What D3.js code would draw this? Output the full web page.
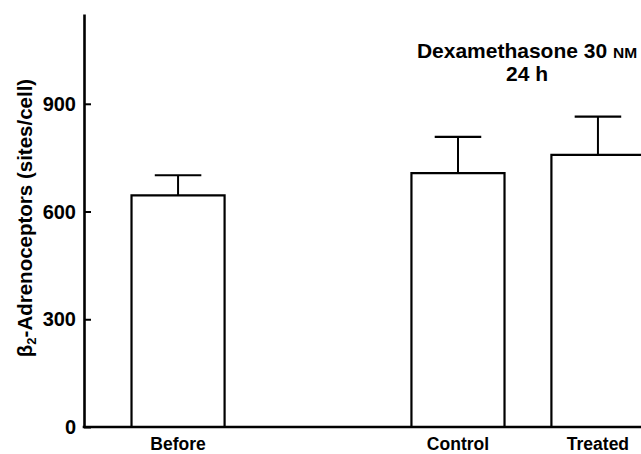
<!DOCTYPE html>
<head>
  <meta charset="utf-8">
  <script src="https://cdn.jsdelivr.net/npm/d3@7"></script>
  <style>
    body { margin: 0; background: white; }
    text { font-family: "Liberation Sans", Arial, sans-serif; font-weight: bold; fill: black; }
  </style>
</head>
<body>
  <div id="chartDiv"></div>
  <script>

  // slots along the x axis, " " is the empty gap between Before and Control
  var slots = ["Before", " ", "Control", "Treated"];
  var categories = ["Before", "Control", "Treated"];
  var means = [645, 707, 758];
  var errors = [56, 101, 106];
  var yTicks = [0, 300, 600, 900];

  var width = 641;
  var height = 454;

  var svg = d3.select("#chartDiv").append("svg")
    .attr("width", width)
    .attr("height", height);

  var x = d3.scaleBand()
    .domain(slots)
    .range([108, 668])
    .paddingInner(0.335)
    .paddingOuter(0.168);

  var y = d3.scaleLinear()
    .domain([0, 1150])
    .range([427, 14]);

  var axisX = 84;

  // bars
  var bars = svg.append("g");
  categories.forEach(function(c, i) {
    var x0 = x(c);
    var bw = x.bandwidth();
    var cx = x0 + bw / 2;

    bars.append("path")
      .attr("d", "M" + x0 + "," + y(0) + "V" + y(means[i]) + "H" + (x0 + bw) + "V" + y(0))
      .style("fill", "white")
      .style("stroke", "black")
      .style("stroke-width", 2.2);

    // error bar, upper only
    bars.append("line")
      .attr("x1", cx).attr("x2", cx)
      .attr("y1", y(means[i])).attr("y2", y(means[i] + errors[i]))
      .style("stroke", "black")
      .style("stroke-width", 2);
    bars.append("line")
      .attr("x1", cx - bw / 4).attr("x2", cx + bw / 4)
      .attr("y1", y(means[i] + errors[i])).attr("y2", y(means[i] + errors[i]))
      .style("stroke", "black")
      .style("stroke-width", 2.2);

    svg.append("text")
      .attr("x", cx)
      .attr("y", 450)
      .attr("text-anchor", "middle")
      .style("font-size", "17.5px")
      .text(c);
  });

  // y axis, ticks point inwards, labels drawn separately
  var yAxis = d3.axisLeft(y)
    .tickValues(yTicks)
    .tickSizeInner(-7)
    .tickSizeOuter(0)
    .tickFormat("");

  var gy = svg.append("g")
    .attr("transform", "translate(" + axisX + ",0)")
    .call(yAxis);
  gy.select(".domain").style("stroke-width", 2.6);
  gy.selectAll(".tick line").style("stroke-width", 2);

  svg.append("g")
    .selectAll("text")
    .data(yTicks)
    .enter()
    .append("text")
    .attr("x", 76)
    .attr("y", function(d) { return y(d); })
    .attr("dy", "0.36em")
    .attr("text-anchor", "end")
    .style("font-size", "20px")
    .text(function(d) { return d; });

  // baseline
  svg.append("line")
    .attr("x1", axisX - 1.3).attr("x2", width)
    .attr("y1", y(0)).attr("y2", y(0))
    .style("stroke", "black")
    .style("stroke-width", 2.6);

  // y axis title
  var yl = svg.append("text")
    .attr("transform", "translate(32," + 218 + ") rotate(-90)")
    .attr("text-anchor", "middle")
    .style("font-size", "20.5px");
  yl.append("tspan").text("β");
  yl.append("tspan").attr("dy", 4).style("font-size", "13px").text("2");
  yl.append("tspan").attr("dy", -4).text("-Adrenoceptors (sites/cell)");

  // treatment title
  var t1 = svg.append("text")
    .attr("x", 527)
    .attr("y", 58)
    .attr("text-anchor", "middle")
    .style("font-size", "21px");
  t1.append("tspan").text("Dexamethasone 30 ");
  t1.append("tspan").style("font-size", "15.5px").text("NM");

  svg.append("text")
    .attr("x", 527)
    .attr("y", 81)
    .attr("text-anchor", "middle")
    .style("font-size", "21px")
    .text("24 h");

  </script>
</body>
